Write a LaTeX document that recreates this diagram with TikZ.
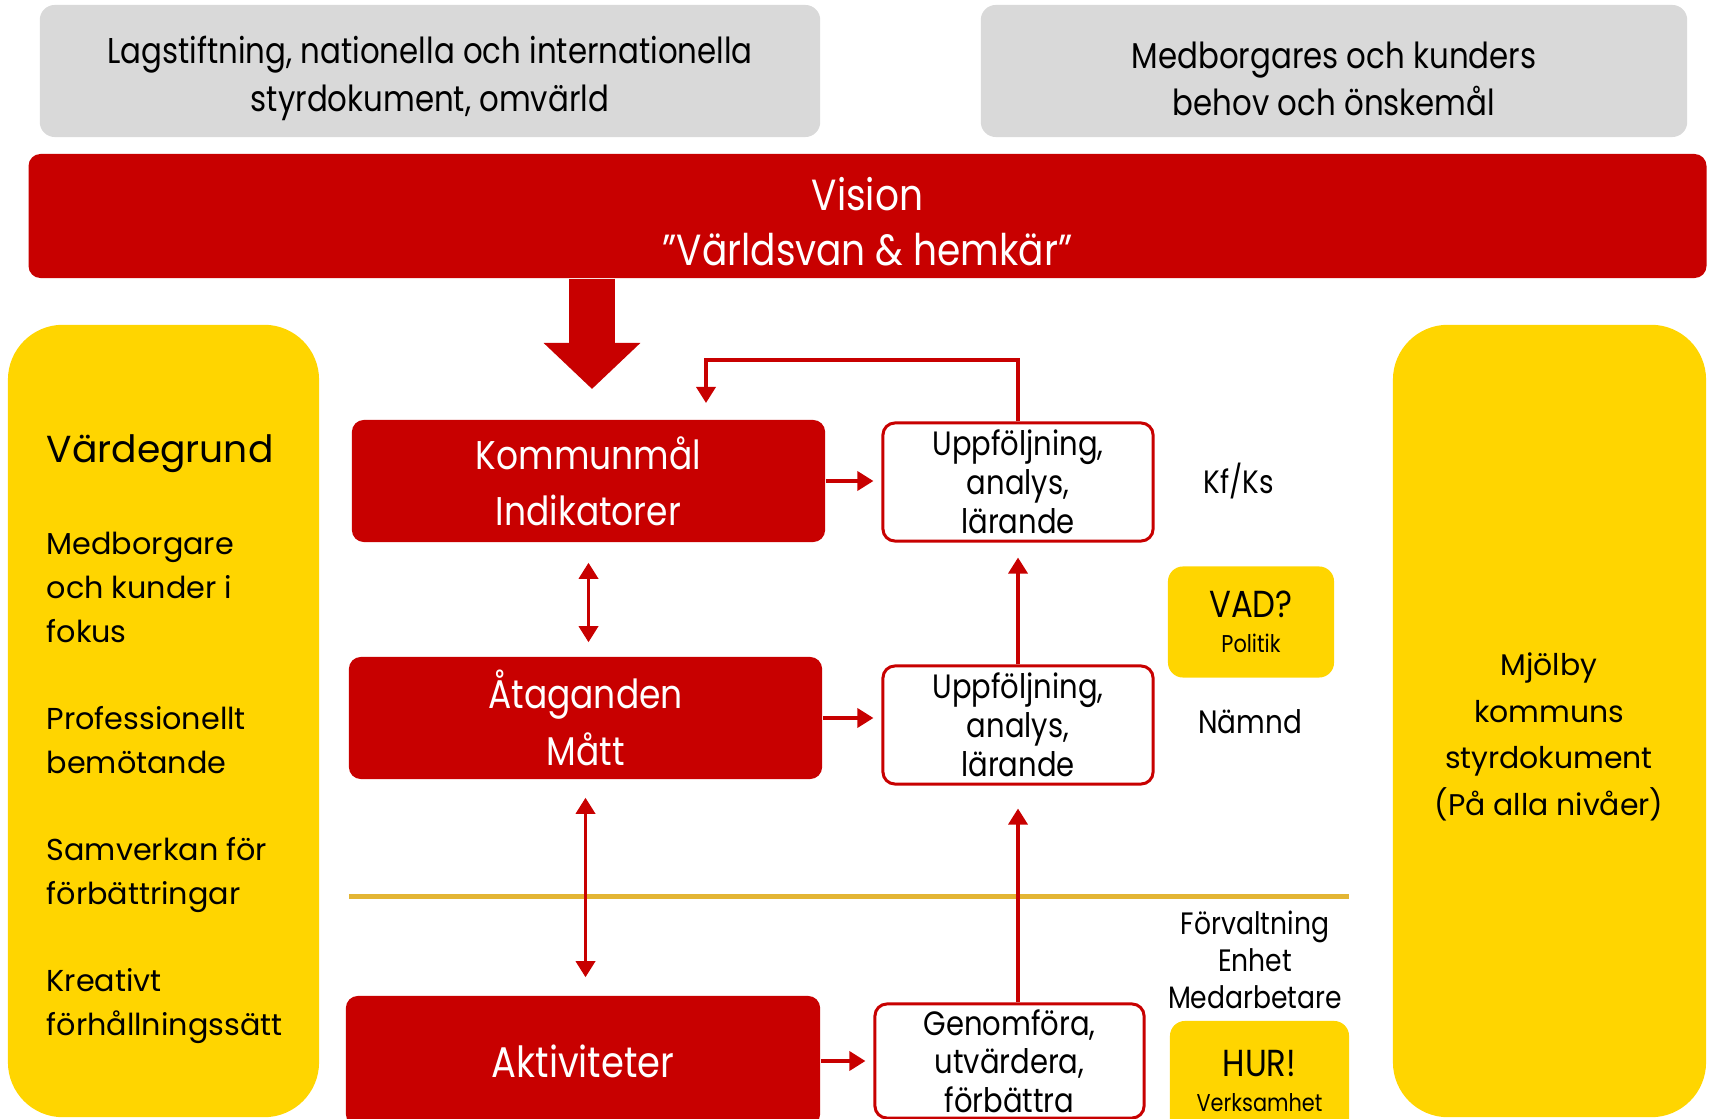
\documentclass[tikz,border=0pt]{standalone}
\usepackage{fontspec}
\setmainfont{Poppins}[FakeStretch=0.86]
\newfontfamily\gothic{Poppins}
\usetikzlibrary{positioning}
\usetikzlibrary{arrows.meta}
\definecolor{kred}{HTML}{C80000}
\definecolor{kgray}{HTML}{D9D9D9}
\definecolor{kyellow}{HTML}{FFD500}
\definecolor{kgold}{HTML}{E3B534}
\tikzset{>={Triangle[length=0.16cm,width=0.19cm]}}
\tikzset{redbox/.style={fill=kred,text=white,rounded corners=0.12cm,align=center,inner sep=0pt}}
\tikzset{graybox/.style={fill=kgray,rounded corners=0.15cm,align=center,inner sep=0pt,text height=25.4pt,font=\fontsize{10.2}{13.4}\selectfont}}
\tikzset{uppfbox/.style={draw=kred,line width=0.03cm,fill=white,rounded corners=0.12cm,align=center,inner sep=0pt,font=\fontsize{9.6}{11.1}\selectfont}}
\tikzset{sidebox/.style={fill=kyellow,rounded corners=0.55cm,inner sep=0pt}}
\tikzset{tagbox/.style={fill=kyellow,rounded corners=0.15cm,align=center,inner sep=0pt}}
\tikzset{lbl/.style={align=center,inner sep=0pt,font=\fontsize{9.2}{11}\selectfont}}
\tikzset{link/.style={draw=kred,line width=0.035cm,->}}

\begin{document}
\begin{tikzpicture}[x=0.01cm,y=-0.01cm]
\useasboundingbox (0,0) rectangle (1709,1119);
\clip (0,0) rectangle (1709,1119);

\node[graybox, minimum width=7.80cm, minimum height=1.32cm] (law) at (430,71) {Lagstiftning, nationella och internationella\\styrdokument, omvärld};
\node[graybox, minimum width=7.06cm, minimum height=1.32cm] (needs) at (1334,71) {Medborgares och kunders\\behov och önskemål};
\node[redbox, minimum width=16.77cm, minimum height=1.24cm, text height=28.4pt, font=\fontsize{12.4}{15.8}\selectfont] (vision) at (867.5,216) {Vision\\”Världsvan \& hemkär”};

\node[sidebox, minimum width=3.11cm, minimum height=7.92cm] (varde) at (163.5,721) {};
\node[sidebox, minimum width=3.13cm, minimum height=7.92cm] (styr) at (1549.5,721) {};
\node[anchor=west, inner sep=0pt, font=\gothic\fontsize{10.7}{13}\selectfont] (vardehead) at (46,454) {Värdegrund};
\node[anchor=west, inner sep=0pt, align=left, font=\gothic\fontsize{8.6}{12.5}\selectfont] (vardetext) at (46,788) {Medborgare\\och kunder i\\fokus\\[12.2pt]Professionellt\\bemötande\\[12.2pt]Samverkan för\\förbättringar\\[12.2pt]Kreativt\\förhållningssätt};
\node[align=center, inner sep=0pt, font=\gothic\fontsize{8.5}{13.3}\selectfont] (styrtext) at (1549,737) {Mjölby\\kommuns\\styrdokument\\(På alla nivåer)};

\node[redbox, minimum width=4.73cm, minimum height=1.22cm, font=\fontsize{11.4}{16}\selectfont] (kommun) at (588.5,481) {Kommunmål\\Indikatorer};
\node[redbox, minimum width=4.73cm, minimum height=1.22cm, font=\fontsize{11.4}{16}\selectfont] (atag) at (585.5,718) {Åtaganden\\Mått};
\node[redbox, minimum width=4.74cm, minimum height=1.30cm, font=\fontsize{12.2}{16}\selectfont] (aktiv) at (583,1061) {Aktiviteter};

\node[uppfbox, minimum width=2.70cm, minimum height=1.18cm] (uppf1) at (1018,482) {Uppföljning,\\analys,\\lärande};
\node[uppfbox, minimum width=2.70cm, minimum height=1.18cm] (uppf2) at (1018,725) {Uppföljning,\\analys,\\lärande};
\node[uppfbox, minimum width=2.69cm, minimum height=1.14cm, font=\fontsize{9.6}{10.9}\selectfont] (genom) at (1009.5,1061) {Genomföra,\\utvärdera,\\förbättra};

\node[tagbox, minimum width=1.66cm, minimum height=1.11cm] (vad) at (1251,622) {{\fontsize{10.7}{12}\selectfont VAD?}\\[-2pt]{\fontsize{6.9}{8}\selectfont Politik}};
\node[tagbox, minimum width=1.79cm, minimum height=1.20cm] (hur) at (1259.5,1081) {{\fontsize{10.7}{12}\selectfont HUR!}\\[-2pt]{\fontsize{6.9}{8}\selectfont Verksamhet}};

\node[lbl] (kfks) at (1239,481) {Kf/Ks};
\node[lbl] (namnd) at (1250,722) {Nämnd};
\node[lbl, font=\fontsize{8.8}{10.6}\selectfont] (forv) at (1255,960) {Förvaltning\\Enhet\\Medarbetare};

\coordinate (divL) at (349,896);
\coordinate (divR) at (1349,896);
\draw[kgold, line width=0.05cm] (divL) -- (divR);

\coordinate (visiontip) at (592,389);
\draw[kred, line width=0.46cm, -{Triangle[length=0.46cm,width=0.94cm]}] (vision.south -| visiontip) -- (visiontip);

\coordinate (looptop) at (706,360);
\coordinate (looptip) at (706,403);
\draw[link] (uppf1.north) |- (looptop) -- (looptip);

\draw[link, shorten >=0.08cm] (kommun.east) -- (kommun.east -| uppf1.west);
\draw[link, shorten >=0.08cm] (atag.east) -- (atag.east -| uppf2.west);
\draw[link, shorten >=0.08cm] (aktiv.east) -- (aktiv.east -| genom.west);
\draw[link, <->, shorten <=0.2cm, shorten >=0.14cm] (kommun.south) -- (kommun.south |- atag.north);
\draw[link, <->, shorten <=0.18cm, shorten >=0.18cm] (atag.south) -- (atag.south |- aktiv.north);
\draw[link, shorten >=0.15cm] (uppf2.north) -- (uppf1.south);
\draw[link, shorten >=0.23cm] (uppf2.south |- genom.north) -- (uppf2.south);
\end{tikzpicture}
\end{document}
